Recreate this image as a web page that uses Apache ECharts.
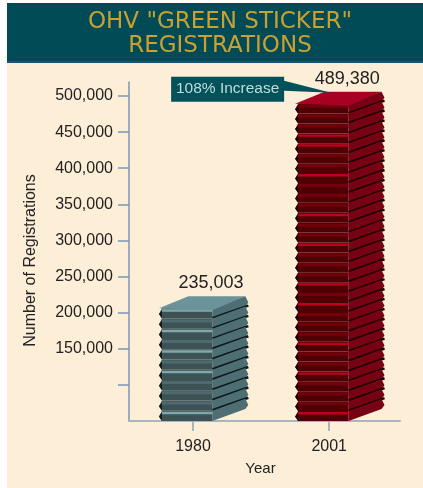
<!DOCTYPE html>
<html>
<head>
<meta charset="utf-8">
<title>OHV Green Sticker Registrations</title>
<script src="https://cdn.jsdelivr.net/npm/echarts@6/dist/echarts.min.js"></script>
<style>
html, body { margin: 0; padding: 0; background: #fff; }
#main { width: 423px; height: 488px; }
</style>
</head>
<body>
<div id="main"></div>
<script>
var titleText = 'OHV "GREEN STICKER"\nREGISTRATIONS';
var years = ['1980', '2001'];
// printed numbers above the stacks
var registrations = [235003, 489380];
// height of the stacks against the axis (the 1980 stack is drawn lower than its printed number)
var stackTops = [206000, 489380];
var slabCounts = [11, 32];
var tickValues = [100000, 150000, 200000, 250000, 300000, 350000, 400000, 450000, 500000];
var labelValues = [150000, 200000, 250000, 300000, 350000, 400000, 450000, 500000];
// slabs with a bright edge, counted from the bottom
var brightSlabs = [[0, 4, 6, 8, 10], [0, 4, 7, 11, 13, 17, 20, 24, 27, 28]];
var annotation = '108% Increase';

var axisMin = 50000;
var axisMax = 519400;

var palettes = [
  { front: '#3c5255', edge: '#4f6a6e', bright: '#7fa8ac', side: '#4d6e73', top: '#6b9399', dark: '#101a1c' },
  { front: '#4e0004', edge: '#74000c', bright: '#bd0020', side: '#760214', top: '#a80022', dark: '#1a0000' }
];

function fmt(v) {
  return String(v).replace(/\B(?=(\d{3})+$)/g, ',');
}

function renderStack(params, api) {
  var i = params.dataIndex;
  var c = palettes[i];
  var top = api.value(1);
  var band = api.size([1, 0])[0];
  var cx = api.coord([i, top])[0];
  var left = cx - band * 0.228;
  var right = left + band * 0.37;
  var dx = 33, dy = 12, tooth = 3;
  var n = slabCounts[i];
  var step = (top - axisMin) / n;
  var children = [];

  // top slabs first so the lower ones sit over them
  for (var s = n - 1; s >= 0; s--) {
    var y1 = api.coord([i, axisMin + (s + 1) * step])[1];
    var y0 = api.coord([i, axisMin + s * step])[1];
    var h = y0 - y1;
    // side face
    children.push({
      type: 'polygon',
      shape: { points: [[right, y1], [right + dx, y1 - dy], [right + dx + tooth, y1 - dy + h * 0.6], [right + dx, y0 - dy], [right, y0]] },
      style: { fill: c.side }
    });
    if (s > 0) {
      children.push({
        type: 'line',
        shape: { x1: right, y1: y0 - 0.5, x2: right + dx + tooth, y2: y0 - dy - 1 },
        style: { stroke: c.dark, lineWidth: 2.5 }
      });
    }
    // front face with the jagged left edge
    children.push({
      type: 'polygon',
      shape: { points: [[left, y1], [right, y1], [right, y0], [left, y0], [left - tooth, y1 + h * 0.55]] },
      style: { fill: c.front }
    });
    children.push({
      type: 'polygon',
      shape: { points: [[left - tooth, y1 + h * 0.55], [left, y1 + h * 0.2], [left, y0]] },
      style: { fill: c.dark }
    });
    var bright = brightSlabs[i].indexOf(s) >= 0;
    children.push({
      type: 'rect',
      shape: { x: left, y: y1 + 1, width: right - left, height: bright ? 2.4 : 3 },
      style: { fill: bright ? c.bright : c.edge }
    });
  }

  // top face
  var yFront = api.coord([i, top])[1];
  children.push({
    type: 'polygon',
    shape: { points: [[left - tooth, yFront], [left + dx * 0.8, yFront - dy], [right + dx, yFront - dy], [right, yFront + 2]] },
    style: { fill: c.top }
  });

  // printed number
  children.push({
    type: 'text',
    style: {
      text: fmt(registrations[i]),
      x: cx + 18,
      y: yFront - dy - 13,
      align: 'center',
      verticalAlign: 'middle',
      fill: '#222',
      font: '18px "Liberation Sans", Arial, sans-serif'
    }
  });

  // callout on the tall stack
  if (i === 1) {
    var boxR = left - 14, boxL = boxR - 113, boxT = yFront - 27, boxB = boxT + 25;
    children.push({
      type: 'polygon',
      shape: { points: [[boxL, boxT], [boxR, boxT], [boxR, boxT + 4], [left + 33, yFront - dy + 1], [boxR, boxT + 14], [boxR, boxB], [boxL, boxB]] },
      style: { fill: '#03525a' }
    });
    children.push({
      type: 'text',
      style: {
        text: annotation,
        x: (boxL + boxR) / 2,
        y: (boxT + boxB) / 2,
        align: 'center',
        verticalAlign: 'middle',
        fill: '#bfdcdc',
        font: '15.5px "Liberation Sans", Arial, sans-serif'
      }
    });
  }

  return { type: 'group', children: children };
}

var myChart = echarts.init(document.getElementById('main'));
myChart.setOption({
  animation: false,
  backgroundColor: '#fff',
  textStyle: { fontFamily: '"Liberation Sans", Arial, sans-serif' },
  graphic: [
    { type: 'rect', z: -10, shape: { x: 7, y: 62, width: 416, height: 426 }, style: { fill: '#fdeed8' } },
    { type: 'rect', z: -9, shape: { x: 7, y: 3, width: 416, height: 59 }, style: { fill: '#004b55' } },
    { type: 'rect', z: -8, shape: { x: 7, y: 61, width: 416, height: 2 }, style: { fill: '#1f4f7a' } }
  ],
  title: {
    text: titleText,
    left: 215,
    top: 5,
    textAlign: 'center',
    textStyle: {
      color: '#c9a033',
      fontSize: 23,
      fontWeight: 'normal',
      lineHeight: 24,
      fontFamily: '"DejaVu Sans", sans-serif'
    }
  },
  grid: { left: 129, right: 23, top: 82, bottom: 67 },
  xAxis: {
    type: 'value',
    min: -0.47,
    max: 1.52,
    name: 'Year',
    nameLocation: 'middle',
    nameGap: 40,
    nameTextStyle: { color: '#222', fontSize: 15, padding: [0, 8, 0, 0] },
    splitLine: { show: false },
    axisLine: { lineStyle: { color: '#a9b6bd', width: 2 } },
    axisTick: { length: 10, customValues: [0, 1], lineStyle: { color: '#a9b6bd', width: 2 } },
    axisLabel: {
      customValues: [0, 1],
      margin: 18,
      color: '#222',
      fontSize: 16,
      formatter: function (v) { return years[v]; }
    }
  },
  yAxis: {
    type: 'value',
    min: axisMin,
    max: axisMax,
    name: 'Number of Registrations',
    nameLocation: 'middle',
    nameGap: 90,
    nameTextStyle: { color: '#222', fontSize: 16, padding: [0, 18, 0, 0] },
    splitLine: { show: false },
    axisLine: { onZero: false, lineStyle: { color: '#7a96b5', width: 1.5 } },
    axisTick: { length: 11, customValues: tickValues, lineStyle: { color: '#7a96b5', width: 1.5 } },
    axisLabel: {
      customValues: labelValues,
      margin: 16,
      color: '#222',
      fontSize: 16,
      formatter: function (v) { return fmt(v); }
    }
  },
  series: [
    {
      type: 'custom',
      renderItem: renderStack,
      encode: { x: 0, y: 1 },
      data: stackTops.map(function (v, i) { return [i, v]; })
    }
  ]
});
</script>
</body>
</html>
